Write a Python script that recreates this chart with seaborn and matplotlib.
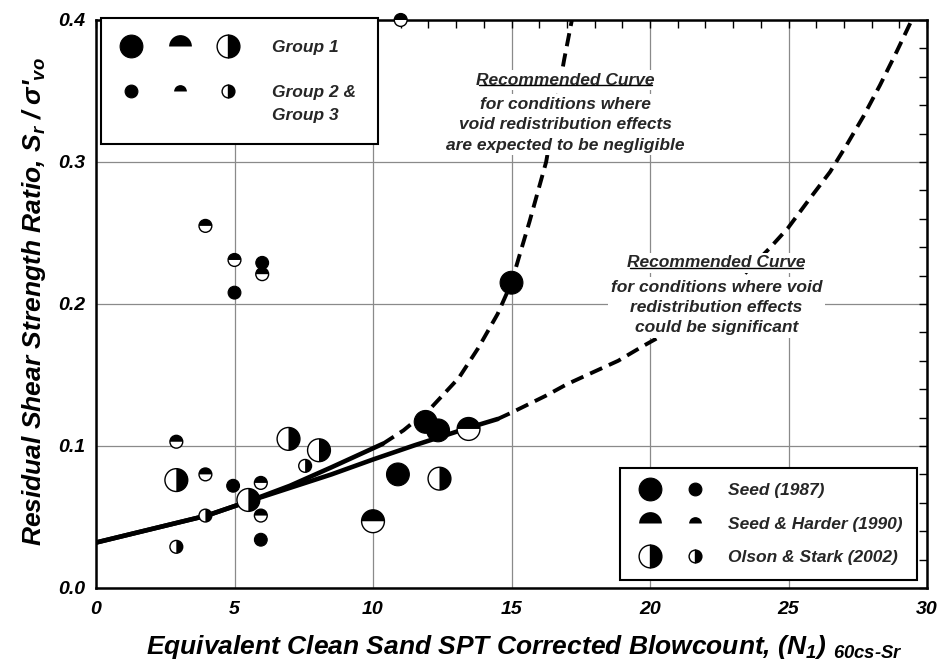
import pandas as pd
import matplotlib
matplotlib.use('Agg')
import matplotlib.pyplot as plt
import seaborn as sns
from matplotlib.markers import MarkerStyle
from matplotlib.lines import Line2D
from matplotlib.legend_handler import HandlerTuple
from matplotlib.ticker import MultipleLocator, FormatStrFormatter

# case histories
n1_60cs = [15.0, 10.9, 11.9, 12.35, 10.0, 13.45, 2.9, 5.5, 6.95, 8.05, 12.4,
           4.95, 5.95, 5.0, 6.0,
           2.9, 3.95, 5.95, 5.95, 3.95, 5.0, 6.0, 11.0,
           3.95, 2.9, 7.55]
sr_ratio = [0.215, 0.080, 0.117, 0.111, 0.047, 0.112, 0.076, 0.062, 0.105, 0.097, 0.077,
            0.072, 0.034, 0.208, 0.229,
            0.103, 0.080, 0.074, 0.051, 0.255, 0.231, 0.221, 0.400,
            0.051, 0.029, 0.086]
source = (['Seed (1987)'] * 4 + ['Seed & Harder (1990)'] * 2 + ['Olson & Stark (2002)'] * 5
          + ['Seed (1987)'] * 4 + ['Seed & Harder (1990)'] * 8 + ['Olson & Stark (2002)'] * 3)
group = ['Group 1'] * 11 + ['Group 2 & 3'] * 15

sources = ['Seed (1987)', 'Seed & Harder (1990)', 'Olson & Stark (2002)']

# recommended curves
lower_solid_x = [0, 2, 4, 5.5, 7, 8.5, 10, 11.5, 13.4, 14.5]
lower_solid_y = [0.032, 0.0415, 0.051, 0.061, 0.0705, 0.080, 0.0905, 0.1005, 0.1125, 0.119]
lower_dash_x = [14.5, 15.0, 16.25, 17.0, 17.95, 18.85, 19.76, 21.0, 22.0, 23.0, 24.33,
                24.98, 25.78, 26.5, 27.1, 27.7, 28.3, 28.9, 29.45]
lower_dash_y = [0.119, 0.1235, 0.1355, 0.1435, 0.152, 0.160, 0.1705, 0.184, 0.197, 0.213,
                0.2395, 0.2535, 0.2745, 0.293, 0.312, 0.332, 0.354, 0.3775, 0.400]
upper_solid_x = [0, 2, 4, 5.5, 7, 8.5, 10.35]
upper_solid_y = [0.032, 0.0415, 0.051, 0.061, 0.072, 0.085, 0.1015]
upper_dash_x = [10.35, 11.1, 12.1, 13.1, 13.8, 14.5, 15.0, 15.3, 15.65, 16.25, 16.9, 17.2]
upper_dash_y = [0.1015, 0.111, 0.127, 0.148, 0.169, 0.193, 0.215, 0.235, 0.258, 0.300,
                0.372, 0.402]

pts = pd.DataFrame({'n1': n1_60cs, 'sr': sr_ratio, 'source': source, 'group': group})

sns.set_theme(style='white')
plt.rcParams['font.family'] = ['Liberation Sans', 'DejaVu Sans']
plt.rcParams['font.style'] = 'italic'
plt.rcParams['font.weight'] = 'bold'
plt.rcParams['mathtext.fontset'] = 'custom'
plt.rcParams['mathtext.it'] = 'Liberation Sans:italic:bold'
plt.rcParams['mathtext.rm'] = 'Liberation Sans:italic:bold'
plt.rcParams['mathtext.bf'] = 'Liberation Sans:italic:bold'

fig, ax = plt.subplots(figsize=(9.39, 6.72), dpi=100)
fig.subplots_adjust(left=96 / 939, right=927 / 939, top=1 - 20 / 672, bottom=1 - 588 / 672)

ax.set_xlim(0, 30)
ax.set_ylim(0, 0.4)
ax.xaxis.set_major_locator(MultipleLocator(5))
ax.xaxis.set_minor_locator(MultipleLocator(1))
ax.yaxis.set_major_locator(MultipleLocator(0.1))
ax.yaxis.set_minor_locator(MultipleLocator(0.02))
ax.yaxis.set_major_formatter(FormatStrFormatter('%.1f'))
ax.grid(True, which='major', color='#8a8a8a', lw=0.9)
ax.set_axisbelow(True)
ax.tick_params(which='both', direction='in', top=True, right=True, length=6, width=1,
               color='black', labelsize=14, labelcolor='black')
ax.tick_params(axis='x', pad=9)
ax.tick_params(axis='y', pad=8)
for s in ax.spines.values():
    s.set_linewidth(1.8)
    s.set_color('black')

# curves
solid = dict(color='black', lw=3.3, estimator=None, sort=False, ax=ax, zorder=3)
dashed = dict(color='black', lw=2.8, linestyle=(0, (3.4, 1.9)), estimator=None, sort=False,
              ax=ax, zorder=3)
sns.lineplot(x=lower_solid_x, y=lower_solid_y, **solid)
sns.lineplot(x=upper_solid_x, y=upper_solid_y, **solid)
sns.lineplot(x=lower_dash_x, y=lower_dash_y, **dashed)
sns.lineplot(x=upper_dash_x, y=upper_dash_y, **dashed)

# points: white outlined base, then the black fill on top
sizes = {'Group 1': 270, 'Group 2 & 3': 85}
base = pts[pts.source != 'Seed (1987)']
sns.scatterplot(data=base, x='n1', y='sr', size='group', sizes=sizes, marker='o',
                color='white', edgecolor='black', linewidth=1.0, legend=False, ax=ax,
                zorder=4, clip_on=False)
for src, fill in zip(sources, ['full', 'top', 'right']):
    sub = pts[pts.source == src]
    sns.scatterplot(data=sub, x='n1', y='sr', size='group', sizes=sizes,
                    marker=MarkerStyle('o', fillstyle=fill), color='black',
                    edgecolor='black' if fill == 'full' else 'none',
                    linewidth=0.8 if fill == 'full' else 0, legend=False, ax=ax,
                    zorder=5, clip_on=False)

ax.set_ylabel(r"Residual Shear Strength Ratio, S$_r$ / σ'$_{vo}$", fontsize=19,
              fontweight='bold', color='black')
ax.yaxis.set_label_coords(-0.058, 0.505)
ax.set_xlabel(r"Equivalent Clean Sand SPT Corrected Blowcount, (N$_1$) $_{60cs\text{-}Sr}$",
              fontsize=19, fontweight='bold', color='black')
ax.xaxis.set_label_coords(0.515, -0.080)


def proxy(src, ms):
    if src == 'Seed (1987)':
        return Line2D([], [], ls='none', marker='o', ms=ms, mfc='black', mec='black', mew=0.8)
    if src == 'Seed & Harder (1990)':
        return Line2D([], [], ls='none', marker='o', ms=ms, fillstyle='top', mfc='black',
                      markerfacecoloralt='none', mec='none')
    return Line2D([], [], ls='none', marker='o', ms=ms, fillstyle='right', mfc='black',
                  markerfacecoloralt='white', mec='black', mew=1.0)


big, small = 16.4, 9.2
fs = 12.5
blank = Line2D([], [], ls='none')
leg1 = ax.legend(handles=[tuple(proxy(s, big) for s in sources), blank,
                          tuple(proxy(s, small) for s in sources), blank],
                 labels=['Group 1', ' ', 'Group 2 &', 'Group 3'],
                 handler_map={tuple: HandlerTuple(ndivide=None, pad=1.9)},
                 loc='upper left', bbox_to_anchor=(0.006, 1.0035), bbox_transform=ax.transAxes,
                 borderaxespad=0, borderpad=1.25, handlelength=6.55, handletextpad=2.07,
                 labelspacing=0.43, fontsize=fs, fancybox=False, framealpha=1,
                 edgecolor='black')
leg1.get_frame().set_linewidth(1.5)
leg1.set_zorder(7)
ax.add_artist(leg1)

leg2 = ax.legend(handles=[(proxy(s, big), proxy(s, small)) for s in sources], labels=sources,
                 handler_map={tuple: HandlerTuple(ndivide=None, pad=0.83)},
                 loc='lower right', bbox_to_anchor=(0.988, 0.014), bbox_transform=ax.transAxes,
                 borderaxespad=0, borderpad=0.85, handlelength=4.34, handletextpad=1.0,
                 labelspacing=1.06, fontsize=fs, fancybox=False, framealpha=1,
                 edgecolor='black')
leg2.get_frame().set_linewidth(1.5)
leg2.set_zorder(7)

# curve notes
box = dict(facecolor='white', edgecolor='none', pad=2)
heads = []
heads.append(ax.text(16.95, 0.3577, 'Recommended Curve', ha='center', va='center',
                     fontsize=fs, zorder=6, bbox=box))
ax.text(16.95, 0.3262, 'for conditions where\nvoid redistribution effects\nare expected to be negligible',
        ha='center', va='center', fontsize=fs, linespacing=1.45, zorder=6, bbox=box)
heads.append(ax.text(22.4, 0.2289, 'Recommended Curve', ha='center', va='center',
                     fontsize=fs, zorder=6, bbox=box))
ax.text(22.4, 0.1975, 'for conditions where void\nredistribution effects\ncould be significant',
        ha='center', va='center', fontsize=fs, linespacing=1.45, zorder=6, bbox=box)

fig.canvas.draw()
for t in heads:
    bb = t.get_window_extent().transformed(ax.transAxes.inverted())
    ax.plot([bb.x0 + 0.003, bb.x1 - 0.003], [bb.y0 + 0.005, bb.y0 + 0.005],
            transform=ax.transAxes, color='black', lw=1.0, zorder=6)

fig.savefig('out.png', dpi=100)
